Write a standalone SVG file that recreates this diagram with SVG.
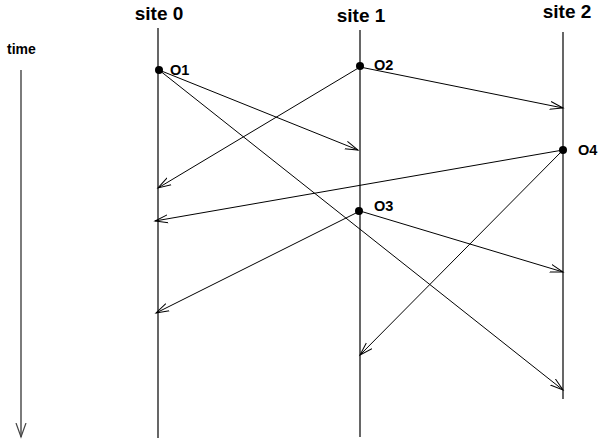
<svg xmlns="http://www.w3.org/2000/svg" width="598" height="445" viewBox="0 0 598 445">
<style>
.site{stroke:#000;stroke-width:1.2;fill:none}
.msg{stroke:#000;stroke-width:1;fill:none}
.title{font-family:"Liberation Sans",Arial,sans-serif;font-weight:bold;font-size:19px;text-anchor:middle}
.lbl{font-family:"Liberation Sans",Arial,sans-serif;font-weight:bold;font-size:14.5px}
</style>
<defs>
<marker id="ah" markerUnits="userSpaceOnUse" markerWidth="16" markerHeight="12" refX="13" refY="5" orient="auto">
<path d="M0,1 L13,5 L0,9" fill="none" stroke="#000" stroke-width="1"/>
</marker>
<marker id="ah2" markerUnits="userSpaceOnUse" markerWidth="16" markerHeight="14" refX="14" refY="6" orient="auto">
<path d="M0,1 L14,6 L0,11" fill="none" stroke="#444" stroke-width="1.2"/>
</marker>
</defs>
<rect width="598" height="445" fill="#fff"/>
<g id="time">
<text class="lbl" x="7" y="54" style="font-size:14px">time</text>
<line x1="21" y1="70" x2="21" y2="437" stroke="#444" stroke-width="1.4" marker-end="url(#ah2)"/>
</g>
<g id="site0">
<text class="title" x="159" y="20">site 0</text>
<line class="site" x1="158" y1="28" x2="158" y2="438"/>
</g>
<g id="site1">
<text class="title" x="361" y="22">site 1</text>
<line class="site" x1="360" y1="30" x2="360" y2="437"/>
</g>
<g id="site2">
<text class="title" x="567" y="18">site 2</text>
<line class="site" x1="563" y1="32" x2="563" y2="399"/>
</g>
<g id="connectors">
<line class="msg" x1="159" y1="70" x2="358" y2="150" marker-end="url(#ah)"/>
<line class="msg" x1="159" y1="70" x2="563" y2="390" marker-end="url(#ah)"/>
<line class="msg" x1="360" y1="67" x2="158" y2="188" marker-end="url(#ah)"/>
<line class="msg" x1="360" y1="67" x2="563" y2="108" marker-end="url(#ah)"/>
<line class="msg" x1="563" y1="150" x2="155" y2="221" marker-end="url(#ah)"/>
<line class="msg" x1="563" y1="150" x2="360" y2="355" marker-end="url(#ah)"/>
<line class="msg" x1="360" y1="211" x2="156" y2="313" marker-end="url(#ah)"/>
<line class="msg" x1="360" y1="211" x2="563" y2="272" marker-end="url(#ah)"/>
</g>
<g id="O1"><circle cx="159" cy="70" r="4"/><text class="lbl" x="170" y="75">O1</text></g>
<g id="O2"><circle cx="360" cy="66" r="4"/><text class="lbl" x="374" y="70">O2</text></g>
<g id="O3"><circle cx="359" cy="211" r="4"/><text class="lbl" x="374" y="211">O3</text></g>
<g id="O4"><circle cx="563" cy="150" r="4"/><text class="lbl" x="578" y="155">O4</text></g>
</svg>
